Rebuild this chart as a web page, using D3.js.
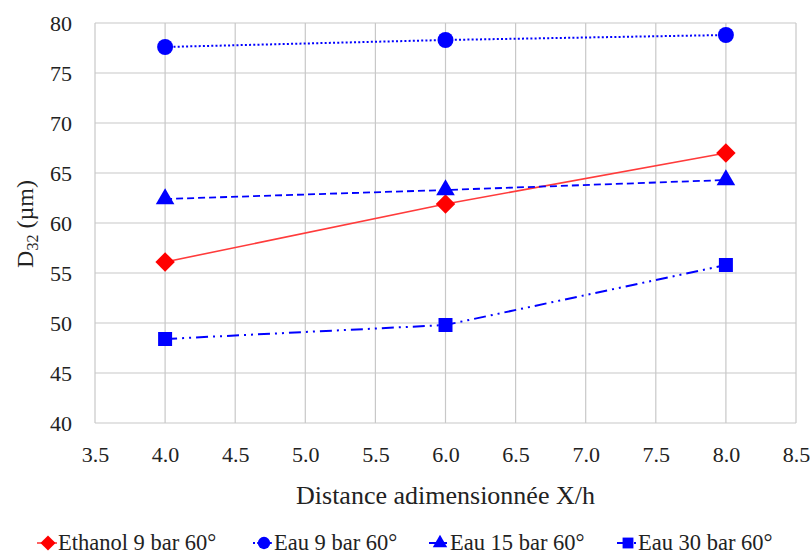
<!DOCTYPE html>
<html>
<head>
<meta charset="utf-8">
<script src="https://cdn.jsdelivr.net/npm/d3@7"></script>
</head>
<body style="margin:0">
<script>
/* Data */
const X_VALUES = [4.0, 6.0, 8.0]
const ETHANOL_9 = [56.1, 61.9, 67.0]
const EAU_9 = [77.6, 78.3, 78.8]
const EAU_15 = [62.4, 63.3, 64.3]
const EAU_30 = [48.4, 49.8, 55.8]
const SERIES_NAMES = ["Ethanol 9 bar 60°", "Eau 9 bar 60°", "Eau 15 bar 60°", "Eau 30 bar 60°"]
const X_TICKS = [3.5, 4.0, 4.5, 5.0, 5.5, 6.0, 6.5, 7.0, 7.5, 8.0, 8.5]
const Y_TICKS = [40, 45, 50, 55, 60, 65, 70, 75, 80]

/* Layout */
const WIDTH = 811
const HEIGHT = 554
const PLOT = {"LEFT": 95, "RIGHT": 796, "TOP": 23, "BOTTOM": 423}
const FONT = "\"Liberation Serif\""

// diamond = square turned 45 degrees
const series = [
  {name: SERIES_NAMES[0], values: ETHANOL_9, color: "#ff0000", line: "#ff3b3b", dash: null, width: 1.6, symbol: d3.symbolSquare, rot: 45, size: 190, lx: 48},
  {name: SERIES_NAMES[1], values: EAU_9, color: "#0000ff", line: "#0000ff", dash: "2,2.2", width: 2, symbol: d3.symbolCircle, rot: 0, size: 200, lx: 264},
  {name: SERIES_NAMES[2], values: EAU_15, color: "#0000ff", line: "#0000ff", dash: "7,4", width: 1.8, symbol: d3.symbolTriangle, rot: 0, size: 150, lx: 440},
  {name: SERIES_NAMES[3], values: EAU_30, color: "#0000ff", line: "#0000ff", dash: "12,5,2,5,2,5", width: 2, symbol: d3.symbolSquare, rot: 0, size: 196, lx: 628}
]

const svg = d3.select("body")
              .append("svg")
              .attr("width", WIDTH)
              .attr("height", HEIGHT);

const x = d3.scaleLinear().domain([3.5, 8.5]).range([PLOT.LEFT, PLOT.RIGHT]);
const y = d3.scaleLinear().domain([40, 80]).range([PLOT.BOTTOM, PLOT.TOP]);

/* Grid */
const grid = svg.append("g");
grid.selectAll("line.v")
    .data(X_TICKS)
    .enter()
    .append("line")
    .attr("x1", (d) => x(d)).attr("x2", (d) => x(d))
    .attr("y1", PLOT.TOP).attr("y2", PLOT.BOTTOM)
    .attr("stroke", "#c8c8c8").attr("stroke-width", 1.2);
grid.selectAll("line.h")
    .data(Y_TICKS)
    .enter()
    .append("line")
    .attr("x1", PLOT.LEFT).attr("x2", PLOT.RIGHT)
    .attr("y1", (d) => y(d)).attr("y2", (d) => y(d))
    .attr("stroke", "#c8c8c8").attr("stroke-width", 1.2);

/* Axes (labels only) */
const xAxis = d3.axisBottom(x).tickValues(X_TICKS).tickFormat(d3.format(".1f")).tickSize(0).tickPadding(23);
svg.append("g")
   .attr("transform", "translate(0," + PLOT.BOTTOM + ")")
   .call(xAxis)
   .call((g) => g.select(".domain").remove())
   .selectAll("text")
   .style("font-family", FONT).attr("font-size", 22).attr("fill", "#222");

const yAxis = d3.axisLeft(y).tickValues(Y_TICKS).tickSize(0).tickPadding(23);
svg.append("g")
   .attr("transform", "translate(" + PLOT.LEFT + ",0)")
   .call(yAxis)
   .call((g) => g.select(".domain").remove())
   .selectAll("text")
   .style("font-family", FONT).attr("font-size", 22).attr("fill", "#222");

/* Axis titles */
svg.append("text")
   .attr("x", (PLOT.LEFT + PLOT.RIGHT) / 2)
   .attr("y", 504)
   .attr("text-anchor", "middle")
   .style("font-family", FONT).attr("font-size", 26)
   .attr("fill", "#222")
   .text("Distance adimensionnée X/h");

const yt = svg.append("text")
   .attr("transform", "translate(33,224) rotate(-90)")
   .attr("text-anchor", "middle")
   .style("font-family", FONT).attr("font-size", 24)
   .attr("fill", "#222");
yt.append("tspan").text("D");
yt.append("tspan").attr("dy", 5).attr("font-size", 16).text("32");
yt.append("tspan").attr("dy", -5).text(" (µm)");

/* Lines and markers */
const line = d3.line().x((d, i) => x(X_VALUES[i])).y((d) => y(d));
series.forEach((s) => {
  svg.append("path")
     .datum(s.values)
     .attr("d", line)
     .attr("fill", "none")
     .attr("stroke", s.line)
     .attr("stroke-width", s.width)
     .attr("stroke-dasharray", s.dash);
  svg.selectAll(null)
     .data(s.values)
     .enter()
     .append("path")
     .attr("d", d3.symbol().type(s.symbol).size(s.size))
     .attr("transform", (d, i) => "translate(" + x(X_VALUES[i]) + "," + y(d) + ") rotate(" + s.rot + ")")
     .attr("fill", s.color);
});

/* Legend */
const legend = svg.append("g").attr("transform", "translate(0,543)");
series.forEach((s) => {
  legend.append("line")
        .attr("x1", s.lx - 11).attr("x2", s.lx + 9)
        .attr("stroke", s.line).attr("stroke-width", s.width)
        .attr("stroke-dasharray", s.dash);
  legend.append("path")
        .attr("d", d3.symbol().type(s.symbol).size(s.size * 0.6))
        .attr("transform", "translate(" + s.lx + ",0) rotate(" + s.rot + ")")
        .attr("fill", s.color);
  legend.append("text")
        .attr("x", s.lx + 10)
        .attr("y", 7)
        .style("font-family", FONT).attr("font-size", 22.5)
        .attr("fill", "#222")
        .text(s.name);
});
</script>
</body>
</html>
